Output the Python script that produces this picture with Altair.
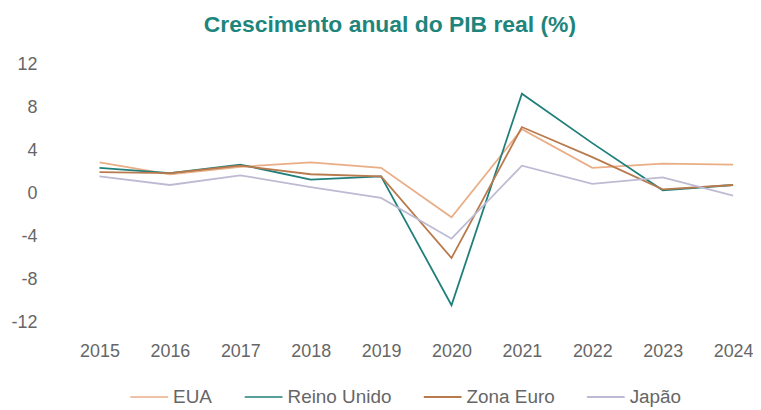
import altair as alt
import pandas as pd

years = [2015, 2016, 2017, 2018, 2019, 2020, 2021, 2022, 2023, 2024]
series = ["EUA", "Reino Unido", "Zona Euro", "Japão"]
eua = [2.9, 1.8, 2.5, 2.9, 2.4, -2.2, 6.0, 2.4, 2.8, 2.7]
reino_unido = [2.4, 1.9, 2.7, 1.3, 1.6, -10.4, 9.3, 4.7, 0.3, 0.8]
zona_euro = [2.0, 1.9, 2.6, 1.8, 1.6, -6.0, 6.2, 3.4, 0.4, 0.8]
japao = [1.6, 0.8, 1.7, 0.6, -0.4, -4.2, 2.6, 0.9, 1.5, -0.2]
colors = ["#E9AE86", "#1F7F7A", "#B97A4E", "#BDBBD3"]
widths = [1.6, 2.0, 2.0, 1.6]

vals = {"EUA": eua, "Reino Unido": reino_unido, "Zona Euro": zona_euro, "Japão": japao}
rows = []
for s in series:
    for y, v in zip(years, vals[s]):
        rows.append({"ano": y, "serie": s, "valor": v, "ordem": series.index(s)})
df = pd.DataFrame(rows)

FONT = "Liberation Sans, Arial, sans-serif"

chart = alt.Chart(df).mark_line(strokeWidth=1.8).encode(
    x=alt.X("ano:Q",
            scale=alt.Scale(domain=[2015, 2024], range=[50, 687], nice=False, zero=False),
            axis=alt.Axis(values=years, format="d", title=None, grid=False, domain=False,
                          ticks=False, labelPadding=20, labelFontSize=18, labelColor="#666666",
                          labelFont=FONT, labelFlush=False, labelOverlap=False)),
    y=alt.Y("valor:Q",
            scale=alt.Scale(domain=[-12, 12], nice=False),
            axis=alt.Axis(values=[-12, -8, -4, 0, 4, 8, 12], title=None, grid=False, domain=False,
                          ticks=False, labelPadding=13, labelFontSize=18, labelColor="#666666",
                          labelFont=FONT, labelExpr="replace(datum.label, '\u2212', '-')")),
    color=alt.Color("serie:N",
                    scale=alt.Scale(domain=series, range=colors),
                    sort=series,
                    legend=alt.Legend(title=None, orient="none", legendX=80, legendY=314,
                                      direction="horizontal", symbolType="stroke",
                                      symbolSize=1444, symbolStrokeWidth=2, labelFontSize=19,
                                      labelColor="#666666", labelFont=FONT, labelOffset=4,
                                      columnPadding=28)),
    strokeWidth=alt.StrokeWidth("serie:N", scale=alt.Scale(domain=series, range=widths), legend=None),
    order=alt.Order("ordem:Q"),
).properties(
    width=704,
    height=259,
    padding={"left": 42, "top": 56, "right": 3, "bottom": 86},
    autosize="none",
    title=alt.TitleParams("Crescimento anual do PIB real (%)", fontSize=23, font=FONT,
                          fontWeight="bold", color="#1E857C", anchor="middle", dx=-10, offset=19),
).configure_view(stroke=None)

chart.save("out.html", embed_options={"renderer": "svg", "actions": False})
